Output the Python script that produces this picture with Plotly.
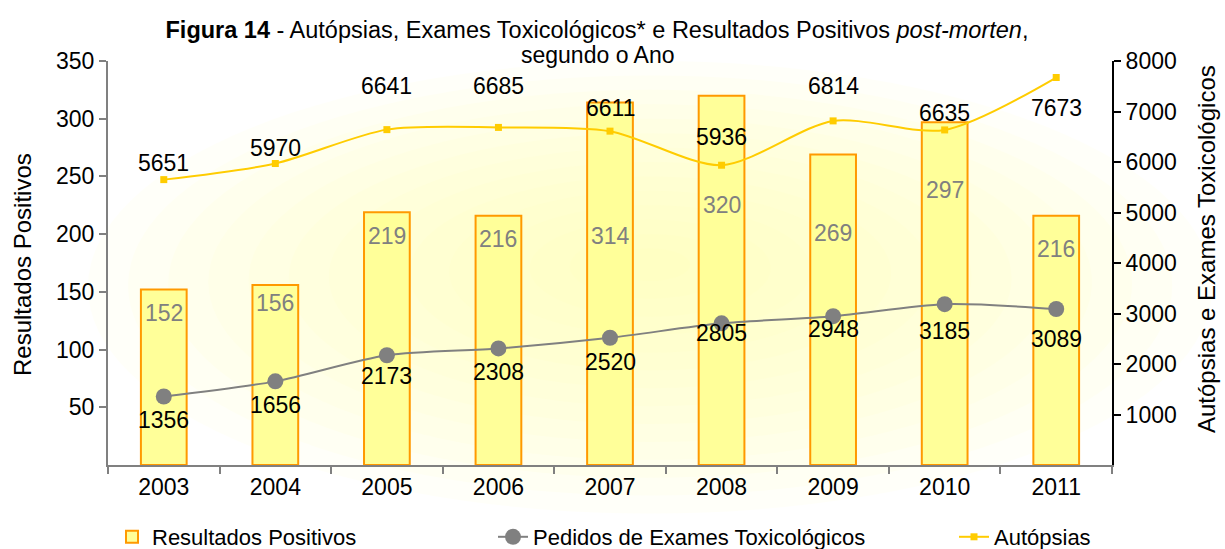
import plotly.graph_objects as go

years = ["2003", "2004", "2005", "2006", "2007", "2008", "2009", "2010", "2011"]
resultados = [152, 156, 219, 216, 314, 320, 269, 297, 216]
pedidos = [1356, 1656, 2173, 2308, 2520, 2805, 2948, 3185, 3089]
autopsias = [5651, 5970, 6641, 6685, 6611, 5936, 6814, 6635, 7673]

# label anchor heights (axis units) as placed in the original chart
res_label_y = [132, 140, 198, 196, 198, 225, 201, 238, 187]
ped_label_y = [891, 1188, 1762, 1842, 2040, 2614, 2693, 2653, 2495]
aut_label_y = [5980, 6277, 7505, 7505, 7069, 6495, 7505, 6970, 7069]

left_ticks = [50, 100, 150, 200, 250, 300, 350]
right_ticks = [1000, 2000, 3000, 4000, 5000, 6000, 7000, 8000]

FONT = "Liberation Sans, Arial, sans-serif"
GREY = "#808080"
LBL = 23

# plot-area geometry in pixels
L, R, T, B = 108, 1112, 61, 465
PW, PH = R - L, B - T

def px_x(p):
    return (p - L) / PW

def px_y(p):
    return (B - p) / PH

fig = go.Figure()

fig.add_trace(go.Bar(
    x=years, y=resultados, name="Resultados Positivos",
    marker=dict(color="#FFFF99", line=dict(color="#FF9900", width=2)),
    width=0.41, yaxis="y", legend="legend",
))
fig.add_trace(go.Scatter(
    x=years, y=pedidos, name="Pedidos de Exames Toxicológicos",
    mode="lines+markers", yaxis="y2", legend="legend2",
    line=dict(color=GREY, width=2, shape="spline", smoothing=0.8),
    marker=dict(color=GREY, size=16, symbol="circle"),
))
fig.add_trace(go.Scatter(
    x=years, y=autopsias, name="Autópsias",
    mode="lines+markers", yaxis="y2", legend="legend3",
    line=dict(color="#FFCC00", width=2, shape="spline", smoothing=0.8),
    marker=dict(color="#FFCC00", size=7, symbol="square"),
))

ann = []
for i, (v, ly) in enumerate(zip(resultados, res_label_y)):
    ann.append(dict(x=i, y=ly, xref="x", yref="y", text=str(v), showarrow=False,
                    font=dict(family=FONT, size=LBL, color=GREY)))
for i, (v, ly) in enumerate(zip(pedidos, ped_label_y)):
    ann.append(dict(x=i, y=ly, xref="x", yref="y2", text=str(v), showarrow=False,
                    font=dict(family=FONT, size=LBL, color="black")))
for i, (v, ly) in enumerate(zip(autopsias, aut_label_y)):
    ann.append(dict(x=i, y=ly, xref="x", yref="y2", text=str(v), showarrow=False,
                    font=dict(family=FONT, size=LBL, color="black")))

# axis titles
ann.append(dict(x=px_x(22), y=px_y(265), xref="paper", yref="paper",
                xanchor="center", yanchor="middle",
                text="Resultados Positivos", textangle=-90, showarrow=False,
                font=dict(family=FONT, size=24, color="black")))
ann.append(dict(x=px_x(1206), y=px_y(249), xref="paper", yref="paper",
                xanchor="center", yanchor="middle",
                text="Autópsias e Exames Toxicológicos", textangle=-90, showarrow=False,
                font=dict(family=FONT, size=24, color="black")))
# second title line
ann.append(dict(x=px_x(597), y=px_y(55), xref="paper", yref="paper",
                xanchor="center", yanchor="middle", text="segundo o Ano", showarrow=False,
                font=dict(family=FONT, size=23, color="black")))

# radial-ish background glow inside the plot area
shapes = []
n = 14
for i in range(n):
    f = 1 - i / n
    shapes.append(dict(type="circle", xref="paper", yref="paper", layer="below",
                       x0=0.54 - 0.56 * f, x1=0.54 + 0.56 * f,
                       y0=0.5 - 0.62 * f, y1=0.5 + 0.5 * f,
                       line=dict(width=0), fillcolor="rgba(255,255,160,0.065)"))

legend_y = px_y(537)

tick_common = dict(showticklabels=False, showline=False, showgrid=False, zeroline=False,
                   ticks="inside", ticklen=7, tickwidth=2, automargin=False)

fig.update_layout(
    width=1225, height=549,
    margin=dict(l=L, r=1225 - R, t=T, b=549 - B, autoexpand=False),
    paper_bgcolor="white", plot_bgcolor="white",
    showlegend=True,
    font=dict(family=FONT, size=22, color="black"),
    title=dict(
        text="<b>Figura 14</b> - Autópsias, Exames Toxicológicos* e Resultados Positivos <i>post-morten</i>,",
        x=px_x(597), xref="paper", xanchor="center",
        y=1 - 30 / 549, yanchor="middle",
        font=dict(family=FONT, size=23.5, color="black"),
    ),
    xaxis=dict(type="category", range=[-0.5, 8.5], showline=True, linecolor=GREY, linewidth=2,
               ticks="outside", tickson="boundaries", ticklen=7, tickcolor=GREY, tickwidth=2,
               tickfont=dict(family=FONT, size=23, color="black"), tickangle=0,
               showgrid=False, zeroline=False, automargin=False),
    xaxis2=dict(overlaying="x", anchor="y", side="bottom", range=[-0.5, 8.5],
                tickvals=[k - 0.5 for k in range(len(years) + 1)], tickcolor=GREY, **tick_common),
    yaxis=dict(range=[0, 350], tickvals=left_ticks, showline=True, linecolor=GREY, linewidth=2,
               ticks="outside", ticklen=7, tickcolor=GREY, tickwidth=2,
               tickfont=dict(family=FONT, size=23, color="black"),
               showgrid=False, zeroline=False, automargin=False),
    yaxis2=dict(range=[0, 8000], tickvals=right_ticks, overlaying="y", side="right",
                showline=True, linecolor="black", linewidth=2,
                ticks="outside", ticklen=7, tickcolor="black", tickwidth=2,
                tickfont=dict(family=FONT, size=23, color="black"),
                showgrid=False, zeroline=False, automargin=False),
    yaxis3=dict(range=[0, 350], tickvals=[0] + left_ticks, overlaying="y", side="left",
                anchor="x", tickcolor=GREY, **tick_common),
    yaxis4=dict(range=[0, 8000], tickvals=right_ticks, overlaying="y", side="right",
                anchor="x", tickcolor="black", **tick_common),
    legend=dict(orientation="h", x=px_x(112), y=legend_y,
                xanchor="left", yanchor="middle", font=dict(family=FONT, size=22),
                bgcolor="rgba(0,0,0,0)"),
    legend2=dict(orientation="h", x=px_x(493), y=legend_y,
                 xanchor="left", yanchor="middle", font=dict(family=FONT, size=22),
                 bgcolor="rgba(0,0,0,0)"),
    legend3=dict(orientation="h", x=px_x(954), y=legend_y,
                 xanchor="left", yanchor="middle", font=dict(family=FONT, size=22),
                 bgcolor="rgba(0,0,0,0)"),
    annotations=ann,
    shapes=shapes,
)

fig.write_html("out.html", config={"displayModeBar": False},
               post_script="document.body.style.margin='0px';document.body.style.overflow='hidden';")
